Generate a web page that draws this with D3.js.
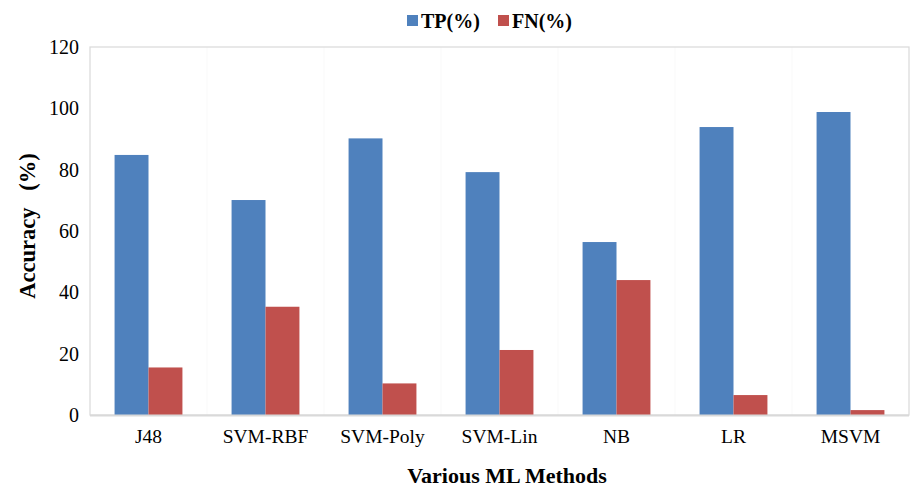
<!DOCTYPE html>
<html><head><meta charset="utf-8">
<script src="https://cdn.jsdelivr.net/npm/d3@7"></script>
<style>body{margin:0;background:#fff}svg{display:block}</style>
</head><body>
<svg id="c" width="919" height="490"></svg>
<script>
const categories = ["J48","SVM-RBF","SVM-Poly","SVM-Lin","NB","LR","MSVM"];
const tpValues = [84.8, 70.1, 90.2, 79.2, 56.4, 93.9, 98.8];
const fnValues = [15.5, 35.3, 10.3, 21.2, 44.0, 6.5, 1.6];
const seriesNames = ["TP(%)","FN(%)"];
const seriesColors = ["#4F81BD","#C0504D"];
const yTicks = [0,20,40,60,80,100,120];

const svg = d3.select("#c");
const m = {l:90, r:10, t:47, b:75};
const W = 919, H = 490;
const x0 = d3.scaleBand().domain(categories).range([m.l, W - m.r]).paddingInner(0.42).paddingOuter(0.21);
const x1 = d3.scaleBand().domain(seriesNames).range([0, x0.bandwidth()]);
const y = d3.scaleLinear().domain([0,120]).range([415, m.t]);
const font = "'Liberation Serif','Times New Roman',serif";

// faint vertical separators
svg.append("g").selectAll("line").data(categories.slice(1)).join("line")
  .attr("x1", d => x0(d) - x0.step()*x0.paddingInner()/2).attr("x2", d => x0(d) - x0.step()*x0.paddingInner()/2)
  .attr("y1", m.t).attr("y2", 415).attr("stroke", "#f9f9f9").attr("stroke-width", 1);

// plot border
svg.append("rect").attr("x", m.l).attr("y", m.t).attr("width", W - m.r - m.l).attr("height", 415 - m.t)
  .attr("fill","none").attr("stroke","#d9d9d9").attr("stroke-width",1.2);

const data = categories.map((c,i)=>({c, vals:[tpValues[i], fnValues[i]]}));
const g = svg.append("g");
data.forEach(d=>{
  d.vals.forEach((v,j)=>{
    g.append("rect")
      .attr("x", x0(d.c) + x1(seriesNames[j]))
      .attr("y", y(v))
      .attr("width", x1.bandwidth())
      .attr("height", y(0) - y(v))
      .attr("fill", seriesColors[j]);
  });
});

// bottom axis line
svg.append("line").attr("x1", m.l).attr("x2", W - m.r).attr("y1", y(0)+0.5).attr("y2", y(0)+0.5)
  .attr("stroke","#d9d9d9").attr("stroke-width",2);

// y axis
const ya = svg.append("g").attr("transform", `translate(${m.l},0)`)
  .call(d3.axisLeft(y).tickValues(yTicks).tickSize(0).tickPadding(11));
ya.select(".domain").remove();
ya.selectAll("text").attr("font-family", font).attr("font-size", 20).attr("fill","#000");

// x axis
const xa = svg.append("g").attr("transform", `translate(0,${y(0)})`)
  .call(d3.axisBottom(x0).tickSize(0).tickPadding(14));
xa.select(".domain").remove();
xa.selectAll("text").attr("font-family", font).attr("font-size", 19.5).attr("fill","#000");

// titles
svg.append("text").attr("x", 507).attr("y", 483).attr("text-anchor","middle")
  .attr("font-family", font).attr("font-weight","bold").attr("font-size", 22).text("Various ML Methods");
svg.append("text").attr("transform", "translate(35,226) rotate(-90)").attr("text-anchor","middle")
  .attr("font-family", font).attr("font-weight","bold").attr("font-size", 22.5)
  .style("white-space","pre").text("Accuracy   (%)");

// legend
const legX = [407, 498];
seriesNames.forEach((s,j)=>{
  svg.append("rect").attr("x", legX[j]).attr("y", 15).attr("width", 11).attr("height", 11).attr("fill", seriesColors[j]);
  svg.append("text").attr("x", legX[j] + 14).attr("y", 28).attr("font-family", font).attr("font-weight","bold")
    .attr("font-size", 20).text(s);
});
</script>
</body></html>
